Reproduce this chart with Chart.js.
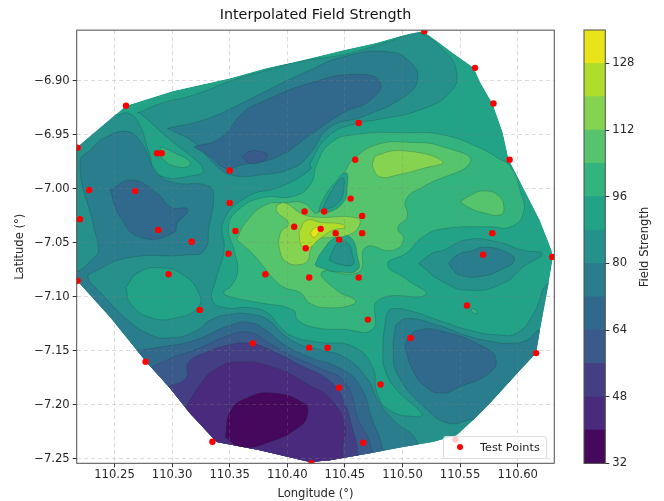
<!DOCTYPE html>
<html>
<head>
<meta charset="utf-8">
<script src="https://cdn.jsdelivr.net/npm/chart.js@4/dist/chart.umd.min.js"></script>
<style>
  html, body { margin: 0; background: #fff; }
  canvas { filter: blur(.35px); }
  #main { position: absolute; left: 0; top: 0; }
  #bar { position: absolute; left: 570px; top: 0; }
  #legend {
    position: absolute; left: 443px; top: 436px; width: 102px; height: 21px;
    background: rgba(255,255,255,.8); border: 1px solid #ddd; border-radius: 3px;
    font: 11.3px "DejaVu Sans", sans-serif; color: #222; line-height: 21px;
  }
  #legend i { position: absolute; left: 13px; top: 7px; width: 6px; height: 6px; border-radius: 50%; background: #f00; }
  #legend span { position: absolute; left: 36px; top: 0; }
</style>
</head>
<body>
<canvas id="main" width="570" height="501"></canvas>
<canvas id="bar" width="94" height="501"></canvas>
<div id="legend"><i></i><span>Test Points</span></div>
<script>
// contour levels of the colour bar
const levels = [32, 40, 48, 56, 64, 72, 80, 88, 96, 104, 112, 120, 128, 136];
const levelColors = ['#46085c', '#4a2a7c', '#443f85', '#3a5a8c', '#31698d', '#2a7d8c', '#26908a', '#22a287',
                     '#33b37e', '#55c46c', '#85d350', '#b0dc2c', '#e8e419'];
const lonTicks = [110.25, 110.30, 110.35, 110.40, 110.45, 110.50, 110.55, 110.60];
const latTicks = [-6.90, -6.95, -7.00, -7.05, -7.10, -7.15, -7.20, -7.25];
const barTicks = [32, 48, 64, 80, 96, 112, 128];

// measuring stations
const pointLon = [110.260, 110.218, 110.287, 110.291, 110.350, 110.228, 110.268, 110.350, 110.220, 110.288, 110.355, 110.317, 110.415, 110.406, 110.416, 110.519, 110.563, 110.579, 110.462, 110.593, 110.459, 110.455, 110.432, 110.465, 110.429, 110.442, 110.465, 110.578, 110.445, 110.218, 110.297, 110.349, 110.381, 110.419, 110.324, 110.370, 110.419, 110.277, 110.335, 110.570, 110.630, 110.462, 110.556, 110.470, 110.507, 110.435, 110.616, 110.481, 110.445, 110.466, 110.421, 110.546];
const pointLat = [-6.923, -6.962, -6.967, -6.967, -6.983, -7.001, -7.002, -7.013, -7.028, -7.038, -7.039, -7.049, -7.021, -7.035, -7.055, -6.854, -6.888, -6.921, -6.939, -6.973, -6.973, -7.009, -7.021, -7.025, -7.037, -7.041, -7.041, -7.041, -7.047, -7.085, -7.079, -7.060, -7.079, -7.082, -7.112, -7.143, -7.147, -7.160, -7.234, -7.061, -7.063, -7.082, -7.108, -7.121, -7.138, -7.147, -7.152, -7.181, -7.184, -7.235, -7.254, -7.232];

// outline of the interpolated area
const hull = [[110.2166,-6.9623],[110.260,-6.9231],[110.3008,-6.9093],[110.3503,-6.8975],[110.3821,-6.8882],[110.411,-6.8815],[110.4483,-6.8716],[110.4776,-6.8648],[110.5004,-6.8577],[110.5178,-6.854],[110.5308,-6.8639],[110.5438,-6.8743],[110.562,-6.888],[110.5673,-6.9009],[110.5785,-6.9216],[110.5872,-6.9484],[110.5922,-6.9725],[110.6046,-6.9982],[110.6193,-7.029],[110.6295,-7.0567],[110.6306,-7.0642],[110.6269,-7.0873],[110.6193,-7.1309],[110.6159,-7.1522],[110.602,-7.1679],[110.5759,-7.1985],[110.5612,-7.2142],[110.547,-7.2281],[110.5265,-7.2343],[110.5004,-7.2389],[110.4718,-7.2447],[110.4371,-7.2512],[110.4197,-7.2528],[110.4093,-7.2503],[110.3763,-7.242],[110.3387,-7.2343],[110.3155,-7.2077],[110.2982,-7.1846],[110.2771,-7.1596],[110.2461,-7.1185],[110.2172,-7.0846]];

// filled contour regions as [lon, lat]
const big6 = [[110.270,-6.930],[110.290,-6.921],[110.319,-6.913],[110.354,-6.899],[110.383,-6.890],[110.411,-6.882],[110.448,-6.876],[110.478,-6.867],[110.501,-6.859],[110.513,-6.855],[110.535,-6.871],[110.547,-6.892],[110.541,-6.911],[110.515,-6.927],[110.478,-6.936],[110.462,-6.939],[110.437,-6.950],[110.420,-6.976],[110.420,-6.982],[110.394,-6.998],[110.366,-7.007],[110.345,-7.029],[110.345,-7.057],[110.338,-7.084],[110.335,-7.103],[110.346,-7.110],[110.368,-7.110],[110.383,-7.115],[110.394,-7.128],[110.406,-7.137],[110.428,-7.142],[110.457,-7.146],[110.474,-7.165],[110.478,-7.189],[110.489,-7.205],[110.513,-7.211],[110.517,-7.208],[110.495,-7.186],[110.485,-7.168],[110.483,-7.149],[110.485,-7.124],[110.487,-7.115],[110.491,-7.111],[110.507,-7.113],[110.535,-7.123],[110.559,-7.131],[110.582,-7.135],[110.600,-7.133],[110.614,-7.115],[110.628,-7.086],[110.646,-7.094],[110.646,-7.270],[110.203,-7.270],[110.203,-6.955],[110.238,-6.922],[110.251,-6.931],[110.262,-6.930],[110.271,-6.939],[110.280,-6.966],[110.288,-6.987],[110.323,-6.987],[110.327,-6.982],[110.318,-6.971],[110.301,-6.957],[110.271,-6.929]];
const south5 = [[110.231,-6.962],[110.241,-6.953],[110.261,-6.947],[110.273,-6.957],[110.287,-6.985],[110.301,-6.994],[110.331,-6.997],[110.336,-7.007],[110.332,-7.035],[110.328,-7.057],[110.314,-7.061],[110.261,-7.064],[110.232,-7.077],[110.227,-7.082],[110.238,-7.096],[110.261,-7.121],[110.281,-7.135],[110.299,-7.138],[110.320,-7.132],[110.334,-7.121],[110.351,-7.116],[110.368,-7.116],[110.383,-7.121],[110.397,-7.135],[110.411,-7.144],[110.428,-7.149],[110.450,-7.156],[110.469,-7.175],[110.479,-7.196],[110.492,-7.214],[110.513,-7.235],[110.515,-7.270],[110.203,-7.270],[110.203,-7.080],[110.217,-7.077],[110.232,-7.064],[110.236,-7.057],[110.232,-7.035],[110.220,-6.976]];
const north5 = [[110.296,-6.944],[110.328,-6.936],[110.362,-6.920],[110.388,-6.906],[110.420,-6.890],[110.448,-6.878],[110.487,-6.873],[110.507,-6.883],[110.513,-6.899],[110.501,-6.915],[110.466,-6.933],[110.437,-6.943],[110.420,-6.967],[110.406,-6.980],[110.377,-6.987],[110.351,-6.987],[110.336,-6.976],[110.319,-6.957]];
const north4 = [[110.319,-6.961],[110.342,-6.953],[110.362,-6.929],[110.377,-6.920],[110.420,-6.902],[110.463,-6.894],[110.481,-6.902],[110.472,-6.918],[110.448,-6.930],[110.420,-6.950],[110.392,-6.970],[110.360,-6.978],[110.347,-6.981],[110.334,-6.971]];
const north3 = [[110.361,-6.970],[110.368,-6.965],[110.379,-6.966],[110.383,-6.969],[110.377,-6.975],[110.367,-6.976]];
const tongue8 = [[110.290,-6.961],[110.301,-6.966],[110.316,-6.976],[110.306,-6.980],[110.290,-6.970]];
const west4 = [[110.246,-7.001],[110.265,-6.992],[110.287,-7.004],[110.299,-7.017],[110.313,-7.018],[110.313,-7.022],[110.305,-7.031],[110.301,-7.041],[110.273,-7.045],[110.255,-7.026]];
const west7 = [[110.260,-7.091],[110.270,-7.078],[110.290,-7.073],[110.310,-7.080],[110.323,-7.096],[110.323,-7.109],[110.305,-7.119],[110.281,-7.119],[110.264,-7.106]];
const south4 = [[110.260,-7.151],[110.292,-7.146],[110.320,-7.140],[110.351,-7.126],[110.368,-7.124],[110.383,-7.132],[110.397,-7.144],[110.420,-7.156],[110.446,-7.166],[110.463,-7.182],[110.473,-7.211],[110.483,-7.242],[110.485,-7.270],[110.264,-7.270],[110.238,-7.177]];
const south3 = [[110.280,-7.166],[110.301,-7.156],[110.320,-7.149],[110.351,-7.135],[110.368,-7.133],[110.383,-7.142],[110.403,-7.154],[110.428,-7.166],[110.450,-7.179],[110.462,-7.214],[110.472,-7.237],[110.473,-7.270],[110.281,-7.270],[110.264,-7.186]];
const south2 = [[110.294,-7.184],[110.312,-7.175],[110.314,-7.161],[110.328,-7.152],[110.351,-7.144],[110.368,-7.143],[110.385,-7.149],[110.411,-7.163],[110.436,-7.177],[110.449,-7.196],[110.457,-7.223],[110.461,-7.242],[110.462,-7.270],[110.299,-7.270]];
const south1 = [[110.310,-7.207],[110.325,-7.180],[110.339,-7.166],[110.357,-7.160],[110.388,-7.165],[110.420,-7.182],[110.437,-7.194],[110.450,-7.219],[110.448,-7.242],[110.450,-7.270],[110.316,-7.270]];
const south0 = [[110.346,-7.230],[110.351,-7.205],[110.366,-7.193],[110.388,-7.189],[110.414,-7.198],[110.418,-7.207],[110.411,-7.220],[110.383,-7.235],[110.360,-7.239]];
const se5 = [[110.494,-7.126],[110.504,-7.120],[110.530,-7.126],[110.556,-7.136],[110.576,-7.141],[110.594,-7.143],[110.608,-7.140],[110.620,-7.131],[110.637,-7.140],[110.637,-7.260],[110.561,-7.223],[110.561,-7.214],[110.541,-7.217],[110.520,-7.203],[110.496,-7.172],[110.492,-7.149]];
const se4 = [[110.502,-7.146],[110.504,-7.140],[110.513,-7.131],[110.535,-7.132],[110.570,-7.146],[110.581,-7.157],[110.576,-7.170],[110.548,-7.184],[110.535,-7.189],[110.521,-7.184],[110.509,-7.168]];
const east6 = [[110.514,-7.069],[110.527,-7.059],[110.535,-7.057],[110.556,-7.047],[110.582,-7.049],[110.605,-7.057],[110.621,-7.060],[110.605,-7.072],[110.588,-7.087],[110.559,-7.094],[110.535,-7.086]];
const east5 = [[110.540,-7.069],[110.548,-7.061],[110.561,-7.057],[110.570,-7.054],[110.589,-7.058],[110.597,-7.066],[110.585,-7.075],[110.568,-7.081],[110.550,-7.080],[110.544,-7.075]];
const center8 = [[110.354,-7.057],[110.349,-7.035],[110.358,-7.019],[110.379,-7.008],[110.405,-7.007],[110.420,-6.996],[110.426,-6.976],[110.437,-6.958],[110.457,-6.950],[110.507,-6.948],[110.535,-6.950],[110.565,-6.961],[110.582,-6.971],[110.594,-6.980],[110.602,-7.001],[110.605,-7.022],[110.594,-7.035],[110.576,-7.035],[110.535,-7.037],[110.517,-7.045],[110.504,-7.059],[110.487,-7.070],[110.504,-7.084],[110.520,-7.098],[110.479,-7.103],[110.474,-7.130],[110.449,-7.130],[110.423,-7.128],[110.409,-7.121],[110.405,-7.112],[110.374,-7.105],[110.351,-7.100],[110.345,-7.096],[110.352,-7.089],[110.357,-7.075]];
const center9 = [[110.356,-7.047],[110.364,-7.031],[110.381,-7.015],[110.398,-7.013],[110.414,-7.013],[110.427,-7.022],[110.450,-6.984],[110.457,-6.973],[110.478,-6.959],[110.507,-6.957],[110.535,-6.961],[110.559,-6.975],[110.518,-6.998],[110.503,-7.010],[110.504,-7.026],[110.496,-7.036],[110.501,-7.047],[110.491,-7.057],[110.468,-7.054],[110.462,-7.077],[110.430,-7.077],[110.443,-7.094],[110.459,-7.103],[110.457,-7.107],[110.437,-7.110],[110.420,-7.106],[110.411,-7.096],[110.397,-7.091],[110.387,-7.082],[110.378,-7.070],[110.368,-7.058]];
const north10 = [[110.474,-6.976],[110.478,-6.969],[110.504,-6.965],[110.535,-6.975],[110.518,-6.981],[110.496,-6.987],[110.481,-6.989],[110.475,-6.982]];
const east9 = [[110.550,-7.012],[110.559,-7.006],[110.570,-7.002],[110.583,-7.006],[110.588,-7.017],[110.585,-7.024],[110.570,-7.022],[110.559,-7.018]];
const spot8 = [[110.559,-7.112],[110.562,-7.111],[110.565,-7.115],[110.562,-7.115]];
const holeA7 = [[110.427,-7.021],[110.431,-7.010],[110.440,-6.996],[110.451,-6.985],[110.452,-6.998],[110.449,-7.012],[110.435,-7.022]];
const holeA6 = [[110.431,-7.017],[110.439,-7.001],[110.448,-6.990],[110.449,-7.001],[110.445,-7.012],[110.436,-7.018]];
const holeB7 = [[110.424,-7.070],[110.430,-7.058],[110.442,-7.045],[110.455,-7.045],[110.461,-7.063],[110.461,-7.075],[110.446,-7.077],[110.426,-7.072]];
const holeB6 = [[110.437,-7.063],[110.444,-7.050],[110.452,-7.050],[110.457,-7.063],[110.457,-7.070],[110.446,-7.070],[110.437,-7.066]];
const peak10 = [[110.391,-7.015],[110.398,-7.013],[110.411,-7.022],[110.423,-7.026],[110.461,-7.027],[110.462,-7.035],[110.452,-7.043],[110.437,-7.045],[110.426,-7.047],[110.420,-7.057],[110.418,-7.066],[110.411,-7.070],[110.400,-7.068],[110.394,-7.059],[110.394,-7.041],[110.401,-7.032],[110.391,-7.021]];
const peak11 = [[110.410,-7.040],[110.417,-7.029],[110.429,-7.031],[110.449,-7.033],[110.450,-7.036],[110.440,-7.038],[110.427,-7.047],[110.420,-7.054],[110.413,-7.054]];
const peak12 = [[110.420,-7.041],[110.424,-7.036],[110.429,-7.037],[110.427,-7.041],[110.423,-7.045]];

// painted in this order, each one over the last: [level index, outline]
const regions = [
  [7, hull], [6, big6], [5, south5], [5, north5], [4, north4], [3, north3], [8, tongue8], [4, west4], [7, west7],
  [4, south4], [3, south3], [2, south2], [1, south1], [0, south0], [5, se5], [4, se4], [6, east6], [5, east5],
  [8, center8], [9, center9], [10, north10], [9, east9], [8, spot8], [7, holeA7], [6, holeA6], [7, holeB7], [6, holeB6],
  [10, peak10], [11, peak11], [12, peak12]
];

const font = { family: '"DejaVu Sans", sans-serif', size: 11.6 };
const inkColor = '#262626';

const toPoints = function (outline) {
  const pts = outline.map(function (p) { return { x: p[0], y: p[1] }; });
  pts.push(pts[0]);
  return pts;
};

const contourSets = regions.map(function (r, i) {
  return {
    data: toPoints(r[1]),
    showLine: true,
    fill: 'shape',
    tension: i === 0 ? 0 : 0.5,
    backgroundColor: levelColors[r[0]],
    borderColor: i === 0 ? levelColors[r[0]] : 'rgba(25,60,60,.25)',
    borderWidth: i === 0 ? 0 : 0.9,
    pointRadius: 0,
    order: regions.length - i + 1
  };
});
const pointSet = {
  label: 'Test Points',
  data: pointLon.map(function (x, i) { return { x: x, y: pointLat[i] }; }),
  backgroundColor: '#ff0000',
  borderWidth: 0,
  pointRadius: 3.2,
  order: 0
};

// keep the contour fills inside the data outline, the points are drawn after it
const hullClip = {
  id: 'hullClip',
  beforeDatasetsDraw: function (chart) {
    const ctx = chart.ctx;
    ctx.save();
    ctx.beginPath();
    hull.forEach(function (p, i) {
      const x = chart.scales.x.getPixelForValue(p[0]);
      const y = chart.scales.y.getPixelForValue(p[1]);
      if (i === 0) ctx.moveTo(x, y); else ctx.lineTo(x, y);
    });
    ctx.closePath();
    ctx.clip();
  },
  beforeDatasetDraw: function (chart, args) {
    if (args.index === contourSets.length) chart.ctx.restore();
  }
};
const frame = {
  id: 'frame',
  afterDraw: function (chart) {
    const a = chart.chartArea;
    chart.ctx.save();
    chart.ctx.strokeStyle = '#4d4d4d';
    chart.ctx.lineWidth = 1;
    chart.ctx.strokeRect(a.left, a.top, a.right - a.left, a.bottom - a.top);
    chart.ctx.restore();
  }
};

new Chart(document.getElementById('main'), {
  type: 'scatter',
  data: { datasets: contourSets.concat([pointSet]) },
  plugins: [hullClip, frame],
  options: {
    responsive: false,
    animation: false,
    layout: { padding: { right: 15.7 } },
    plugins: {
      legend: { display: false },
      tooltip: { enabled: false },
      title: {
        display: true,
        fullSize: false,
        text: 'Interpolated Field Strength',
        color: '#111',
        font: { family: font.family, size: 14.3, weight: 'normal' },
        padding: { top: 7, bottom: 6 }
      }
    },
    scales: {
      x: {
        min: 110.2172,
        max: 110.6318,
        afterBuildTicks: function (s) { s.ticks = lonTicks.map(function (v) { return { value: v }; }); },
        afterFit: function (s) { s.height = 37.7; },
        ticks: { font: font, color: inkColor, maxRotation: 0, padding: 1, callback: function (v) { return v.toFixed(2); } },
        grid: { z: 1, color: 'rgba(128,128,128,.28)', tickColor: '#333', tickLength: 4 },
        border: { display: false, dash: [4, 3] },
        title: { display: true, text: 'Longitude (°)', font: font, color: inkColor, padding: { top: 1, bottom: 0 } }
      },
      y: {
        min: -7.254,
        max: -6.8531,
        afterBuildTicks: function (s) { s.ticks = latTicks.map(function (v) { return { value: v }; }); },
        afterFit: function (s) { s.width = 76.7; },
        ticks: { font: font, color: inkColor, padding: 3, callback: function (v) { return '\u2212' + Math.abs(v).toFixed(2); } },
        grid: { z: 1, color: 'rgba(128,128,128,.28)', tickColor: '#333', tickLength: 4 },
        border: { display: false, dash: [4, 3] },
        title: { display: true, text: 'Latitude (°)', font: font, color: inkColor, padding: { top: 13, bottom: 0 } }
      }
    }
  }
});

// colour bar, one floating bar per contour level
const barSets = levelColors.map(function (c, i) {
  return { data: [[levels[i], levels[i + 1]]], backgroundColor: c, borderWidth: 0, barPercentage: 1, categoryPercentage: 1, grouped: false };
});
const barLabel = {
  id: 'barLabel',
  afterDraw: function (chart) {
    const ctx = chart.ctx;
    ctx.save();
    ctx.translate(75, 247);
    ctx.rotate(-Math.PI / 2);
    ctx.font = '11.6px "DejaVu Sans", sans-serif';
    ctx.fillStyle = inkColor;
    ctx.textAlign = 'center';
    ctx.textBaseline = 'middle';
    ctx.fillText('Field Strength', 0, 0);
    ctx.restore();
  }
};
new Chart(document.getElementById('bar'), {
  type: 'bar',
  data: { labels: [''], datasets: barSets },
  plugins: [frame, barLabel],
  options: {
    responsive: false,
    animation: false,
    layout: { padding: { left: 14, top: 30, bottom: 37.6 } },
    plugins: { legend: { display: false }, tooltip: { enabled: false } },
    scales: {
      x: { display: false },
      y: {
        position: 'right',
        min: 32,
        max: 136,
        afterBuildTicks: function (s) { s.ticks = barTicks.map(function (v) { return { value: v }; }); },
        afterFit: function (s) { s.width = 58.7; },
        ticks: { font: font, color: inkColor, padding: 3 },
        grid: { drawOnChartArea: false, tickColor: '#333', tickLength: 4 },
        border: { display: false }
      }
    }
  }
});
</script>
</body>
</html>
